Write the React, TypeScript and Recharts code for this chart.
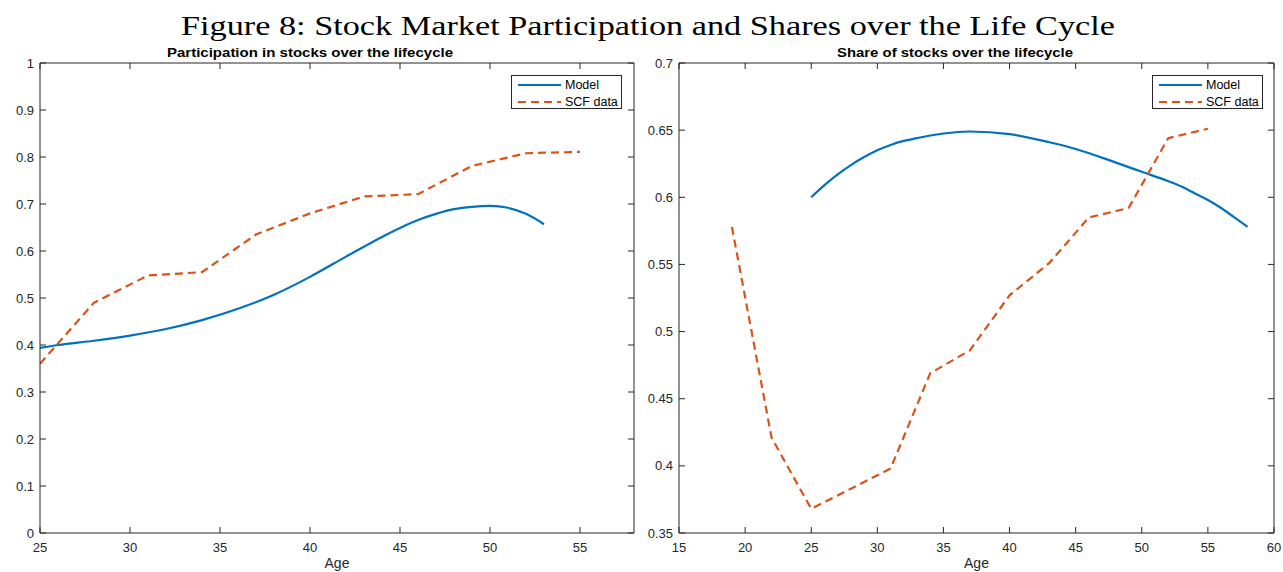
import React from 'react';
import { LineChart, Line, XAxis, YAxis, Legend } from 'recharts';

// ---------- Data ----------
const participationModelAges = [25, 26, 28, 30, 32, 34, 36, 38, 40, 42, 44, 46, 47, 48, 49, 50, 51, 52, 53];
const participationModelValues = [0.394, 0.4, 0.409, 0.42, 0.434, 0.453, 0.477, 0.507, 0.545, 0.588, 0.63, 0.666, 0.679, 0.689, 0.694, 0.696, 0.692, 0.679, 0.657];
const participationScfAges = [25, 28, 31, 34, 37, 40, 43, 46, 49, 52, 55];
const participationScfValues = [0.36, 0.49, 0.548, 0.555, 0.635, 0.68, 0.716, 0.721, 0.781, 0.808, 0.811];

const shareModelAges = [25, 26, 27, 28, 29, 30, 31, 32, 33, 34, 35, 37, 40, 43, 45, 48, 50, 52, 53, 54, 55, 56, 57, 58];
const shareModelValues = [0.6, 0.609, 0.617, 0.624, 0.63, 0.635, 0.639, 0.642, 0.644, 0.646, 0.6475, 0.649, 0.647, 0.641, 0.636, 0.626, 0.619, 0.612, 0.608, 0.603, 0.598, 0.592, 0.585, 0.578];
const shareScfAges = [19, 22, 25, 28, 31, 34, 37, 40, 43, 46, 49, 52, 55];
const shareScfValues = [0.578, 0.421, 0.368, 0.383, 0.398, 0.469, 0.486, 0.527, 0.551, 0.585, 0.592, 0.644, 0.651];

const leftXTicks = [25, 30, 35, 40, 45, 50, 55];
const leftYTicks = [0, 0.1, 0.2, 0.3, 0.4, 0.5, 0.6, 0.7, 0.8, 0.9, 1];
const rightXTicks = [15, 20, 25, 30, 35, 40, 45, 50, 55, 60];
const rightYTicks = [0.35, 0.4, 0.45, 0.5, 0.55, 0.6, 0.65, 0.7];

const seriesNames = ['Model', 'SCF data'];
const figureTitle = 'Figure 8: Stock Market Participation and Shares over the Life Cycle';
const leftTitle = 'Participation in stocks over the lifecycle';
const rightTitle = 'Share of stocks over the lifecycle';
const xAxisLabel = 'Age';

// ---------- Styles ----------
const AXIS = '#262626';
const BLUE = '#0072BD';
const ORANGE = '#D95319';
const DASH = '8 5';
const SANS = '"Liberation Sans", Arial, Helvetica, sans-serif';
const TICK_LEN = 6;

const toPoints = (ages: number[], values: number[]) => ages.map((age, i) => ({ age, value: values[i] }));
const fmt = (v: number) => String(Math.round(v * 1000) / 1000);

const BottomTick = (props: any) => {
  const { x, y, payload } = props;
  return (
    <g>
      <line x1={x} x2={x} y1={y} y2={y - TICK_LEN} stroke={AXIS} strokeWidth={1} />
      <text x={x} y={y + 19} textAnchor="middle" fontSize={13} fontFamily={SANS} fill={AXIS}>
        {fmt(payload.value)}
      </text>
    </g>
  );
};
const TopTick = (props: any) => {
  const { x, y } = props;
  return <line x1={x} x2={x} y1={y} y2={y + TICK_LEN} stroke={AXIS} strokeWidth={1} />;
};
const LeftTick = (props: any) => {
  const { x, y, payload } = props;
  return (
    <g>
      <line x1={x} x2={x + TICK_LEN} y1={y} y2={y} stroke={AXIS} strokeWidth={1} />
      <text x={x - 6} y={y + 4.5} textAnchor="end" fontSize={13} fontFamily={SANS} fill={AXIS}>
        {fmt(payload.value)}
      </text>
    </g>
  );
};
const RightTick = (props: any) => {
  const { x, y } = props;
  return <line x1={x} x2={x - TICK_LEN} y1={y} y2={y} stroke={AXIS} strokeWidth={1} />;
};

const dashFor: Record<string, string | undefined> = { Model: undefined, 'SCF data': DASH };

const LegendBox = (props: any) => {
  const { payload = [] } = props;
  return (
    <div style={{ position: 'relative', width: 109, height: 32, border: `1px solid ${AXIS}`, background: '#fff' }}>
      {payload.map((e: any, i: number) => (
        <div key={i} style={{ position: 'absolute', left: 0, top: 1 + i * 16.5, height: 16, display: 'flex', alignItems: 'center' }}>
          <svg width={53} height={16} style={{ display: 'block' }}>
            <line x1={6} x2={49} y1={8} y2={8} stroke={e.color} strokeWidth={2} strokeDasharray={dashFor[e.value]} />
          </svg>
          <span style={{ fontFamily: SANS, fontSize: 12.5, color: '#000', whiteSpace: 'nowrap', lineHeight: '16px' }}>{e.value}</span>
        </div>
      ))}
    </div>
  );
};

type PanelProps = {
  modelPts: { age: number; value: number }[];
  scfPts: { age: number; value: number }[];
  xDomain: [number, number];
  yDomain: [number, number];
  xTicks: number[];
  yTicks: number[];
  width: number;
  marginRight: number;
  legendLeft: number;
};

const Panel = ({ modelPts, scfPts, xDomain, yDomain, xTicks, yTicks, width, marginRight, legendLeft }: PanelProps) => (
  <LineChart width={width} height={572} margin={{ top: 62, right: marginRight, bottom: 38, left: 39 }}>
    <XAxis
      xAxisId="b"
      dataKey="age"
      type="number"
      domain={xDomain}
      ticks={xTicks}
      interval={0}
      allowDataOverflow
      height={1}
      tickSize={0}
      tickMargin={0}
      tickLine={false}
      axisLine={{ stroke: AXIS, strokeWidth: 1 }}
      tick={<BottomTick />}
      label={{ value: xAxisLabel, position: 'bottom', offset: 24, fontSize: 14, fontFamily: SANS, fill: AXIS }}
    />
    <XAxis
      xAxisId="t"
      orientation="top"
      dataKey="age"
      type="number"
      domain={xDomain}
      ticks={xTicks}
      interval={0}
      allowDataOverflow
      height={1}
      tickSize={0}
      tickMargin={0}
      tickLine={false}
      axisLine={{ stroke: AXIS, strokeWidth: 1 }}
      tick={<TopTick />}
    />
    <YAxis
      yAxisId="l"
      type="number"
      domain={yDomain}
      ticks={yTicks}
      interval={0}
      allowDataOverflow
      width={1}
      tickSize={0}
      tickMargin={0}
      tickLine={false}
      axisLine={{ stroke: AXIS, strokeWidth: 1 }}
      tick={<LeftTick />}
    />
    <YAxis
      yAxisId="r"
      orientation="right"
      type="number"
      domain={yDomain}
      ticks={yTicks}
      interval={0}
      allowDataOverflow
      width={1}
      tickSize={0}
      tickMargin={0}
      tickLine={false}
      axisLine={{ stroke: AXIS, strokeWidth: 1 }}
      tick={<RightTick />}
    />
    <Line
      xAxisId="b"
      yAxisId="l"
      data={modelPts}
      dataKey="value"
      name={seriesNames[0]}
      type="monotone"
      stroke={BLUE}
      strokeWidth={2.2}
      dot={false}
      activeDot={false}
      isAnimationActive={false}
    />
    <Line
      xAxisId="b"
      yAxisId="l"
      data={scfPts}
      dataKey="value"
      name={seriesNames[1]}
      type="linear"
      stroke={ORANGE}
      strokeWidth={2.2}
      strokeDasharray={DASH}
      dot={false}
      activeDot={false}
      isAnimationActive={false}
    />
    <Legend
      layout="vertical"
      align="center"
      verticalAlign="middle"
      content={<LegendBox />}
      wrapperStyle={{ position: 'absolute', left: legendLeft, top: 75, width: 111, height: 34, margin: 0, padding: 0 }}
    />
  </LineChart>
);

export default function App() {
  return (
    <div style={{ position: 'absolute', left: 0, top: 0, width: 1283, height: 572, background: '#fff', overflow: 'hidden' }}>
      <div style={{ position: 'absolute', left: 0, top: 0 }}>
        <Panel
          modelPts={toPoints(participationModelAges, participationModelValues)}
          scfPts={toPoints(participationScfAges, participationScfValues)}
          xDomain={[25, 58]}
          yDomain={[0, 1]}
          xTicks={leftXTicks}
          yTicks={leftYTicks}
          width={640}
          marginRight={5}
          legendLeft={511}
        />
      </div>
      <div style={{ position: 'absolute', left: 639, top: 0 }}>
        <Panel
          modelPts={toPoints(shareModelAges, shareModelValues)}
          scfPts={toPoints(shareScfAges, shareScfValues)}
          xDomain={[15, 60]}
          yDomain={[0.35, 0.7]}
          xTicks={rightXTicks}
          yTicks={rightYTicks}
          width={644}
          marginRight={8}
          legendLeft={513}
        />
      </div>
      <svg width={1283} height={572} style={{ position: 'absolute', left: 0, top: 0, pointerEvents: 'none' }}>
        <text x={181} y={35} fontSize={28} fontFamily='"Liberation Serif", "DejaVu Serif", serif' fill="#000" textLength={934} lengthAdjust="spacingAndGlyphs">
          {figureTitle}
        </text>
        <text x={167} y={56.5} fontSize={13} fontWeight="bold" fontFamily={SANS} fill="#000" textLength={286} lengthAdjust="spacingAndGlyphs">
          {leftTitle}
        </text>
        <text x={837} y={56.5} fontSize={13} fontWeight="bold" fontFamily={SANS} fill="#000" textLength={236} lengthAdjust="spacingAndGlyphs">
          {rightTitle}
        </text>
      </svg>
    </div>
  );
}
